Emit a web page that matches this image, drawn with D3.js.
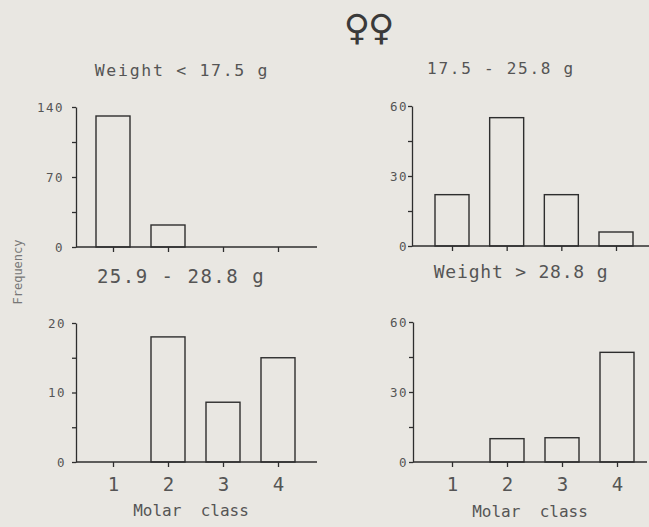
<!DOCTYPE html>
<html>
<head>
<meta charset="utf-8">
<script src="https://cdn.jsdelivr.net/npm/d3@7"></script>
<style>
  html, body { margin: 0; padding: 0; background: #e9e7e2; }
  svg { display: block; }
  .axis path, .axis line { stroke: #2e2e2e; stroke-width: 1.3; }
  .axis text { fill: #555; font-family: "DejaVu Sans Mono", monospace; }
</style>
</head>
<body>
<div id="plot"></div>
<script>
const CANVAS_WIDTH  = 649;
const CANVAS_HEIGHT = 527;
const BAR_WIDTH     = 34;
const INK           = "#2e2e2e";
const TEXT_INK      = "#555";

// data
var molarClasses = [1, 2, 3, 4];
var panelTitles  = ["Weight < 17.5 g", "17.5 - 25.8 g", "25.9 - 28.8 g", "Weight > 28.8 g"];
var yMaxima      = [140, 60, 20, 60];
var freqLight    = [131, 22, 0, 0];     // Weight < 17.5 g
var freqMid      = [22, 55, 22, 6];     // 17.5 - 25.8 g
var freqHeavy    = [0, 18, 8.6, 15];    // 25.9 - 28.8 g
var freqHeaviest = [0, 10, 10.4, 47];   // Weight > 28.8 g
var xLabel = "Molar  class";
var yLabel = "Frequency";

// layout of the four panels
var panels = [
    { values: freqLight,    axisX: 76,  endX: 317, x0: 113, x1: 278, base: 247, top: 107, labelPad: 12, showX: false,
      title: { x: 182, y: 76, size: 16.5, ls: 1.7 } },
    { values: freqMid,      axisX: 412, endX: 649, x0: 452, x1: 616, base: 246, top: 106, labelPad: 4,  showX: false,
      title: { x: 501, y: 74, size: 16,   ls: 1.75 } },
    { values: freqHeavy,    axisX: 76,  endX: 317, x0: 113, x1: 278, base: 462, top: 323, labelPad: 10, showX: true,
      title: { x: 181, y: 283, size: 19,  ls: 1.5 }, xlab: { x: 191, y: 516 } },
    { values: freqHeaviest, axisX: 413, endX: 647, x0: 452, x1: 617, base: 462, top: 322, labelPad: 5,  showX: true,
      title: { x: 521, y: 278, size: 18,  ls: 0.8 }, xlab: { x: 530, y: 517 } }
];

var svg = d3.select("#plot")
    .append("svg")
    .attr("width", CANVAS_WIDTH)
    .attr("height", CANVAS_HEIGHT);

function drawPanel(p, i) {
    var max = yMaxima[i];
    var yScale = d3.scaleLinear().domain([0, max]).range([p.base, p.top]);
    var xScale = d3.scalePoint().domain(molarClasses).range([p.x0, p.x1]);

    var g = svg.append("g").attr("class", "panel");

    // bars
    g.selectAll("rect")
     .data(p.values.map(function(v, k) { return { c: molarClasses[k], v: v }; }).filter(function(d) { return d.v > 0; }))
     .enter()
     .append("rect")
     .attr("x", function(d) { return xScale(d.c) - BAR_WIDTH / 2; })
     .attr("y", function(d) { return yScale(d.v); })
     .attr("width", BAR_WIDTH)
     .attr("height", function(d) { return yScale(0) - yScale(d.v); })
     .attr("fill", "none")
     .attr("stroke", INK)
     .attr("stroke-width", 1.4);

    // y axis, labels only on 0, half and max
    var yAxis = d3.axisLeft(yScale)
        .tickValues([0, max / 4, max / 2, 3 * max / 4, max])
        .tickSize(4)
        .tickSizeOuter(0)
        .tickPadding(p.labelPad - 4)
        .tickFormat(function(d) { return (d === 0 || d === max / 2 || d === max) ? d : ""; });

    g.append("g")
     .attr("class", "axis")
     .attr("transform", "translate(" + p.axisX + ",0)")
     .call(yAxis)
     .selectAll("text")
     .style("font-size", "12.5px")
     .style("letter-spacing", "1.5px");

    // x baseline
    g.append("line")
     .attr("x1", p.axisX)
     .attr("x2", p.endX)
     .attr("y1", yScale(0))
     .attr("y2", yScale(0))
     .attr("stroke", INK)
     .attr("stroke-width", 1.4);

    var xAxis = d3.axisBottom(xScale)
        .tickSize(5)
        .tickPadding(11)
        .tickFormat(function(d) { return p.showX ? d : ""; });

    var xg = g.append("g")
     .attr("class", "axis")
     .attr("transform", "translate(0," + yScale(0) + ")")
     .call(xAxis);
    xg.select(".domain").remove();
    xg.selectAll("text").style("font-size", "19px");

    // panel title
    g.append("text")
     .attr("x", p.title.x)
     .attr("y", p.title.y)
     .attr("text-anchor", "middle")
     .attr("fill", TEXT_INK)
     .style("font-family", "'DejaVu Sans Mono', monospace")
     .style("font-size", p.title.size + "px")
     .style("letter-spacing", p.title.ls + "px")
     .text(panelTitles[i]);

    if (p.xlab) {
        g.append("text")
         .attr("x", p.xlab.x)
         .attr("y", p.xlab.y)
         .attr("text-anchor", "middle")
         .attr("fill", TEXT_INK)
         .style("font-family", "'DejaVu Sans Mono', monospace")
         .style("font-size", "16px")
         .style("white-space", "pre")
         .text(xLabel);
    }
}

panels.forEach(drawPanel);

// shared y label
svg.append("text")
   .attr("transform", "translate(22,272) rotate(-90)")
   .attr("text-anchor", "middle")
   .attr("fill", "#777")
   .style("font-family", "'DejaVu Sans Mono', monospace")
   .style("font-size", "12px")
   .text(yLabel);

// female symbols heading
svg.append("text")
   .attr("x", 368)
   .attr("y", 40)
   .attr("text-anchor", "middle")
   .attr("fill", "#3a3a3a")
   .style("font-family", "'DejaVu Sans', sans-serif")
   .style("font-size", "36px")
   .style("letter-spacing", "-2px")
   .text("\u2640\u2640");
</script>
</body>
</html>
